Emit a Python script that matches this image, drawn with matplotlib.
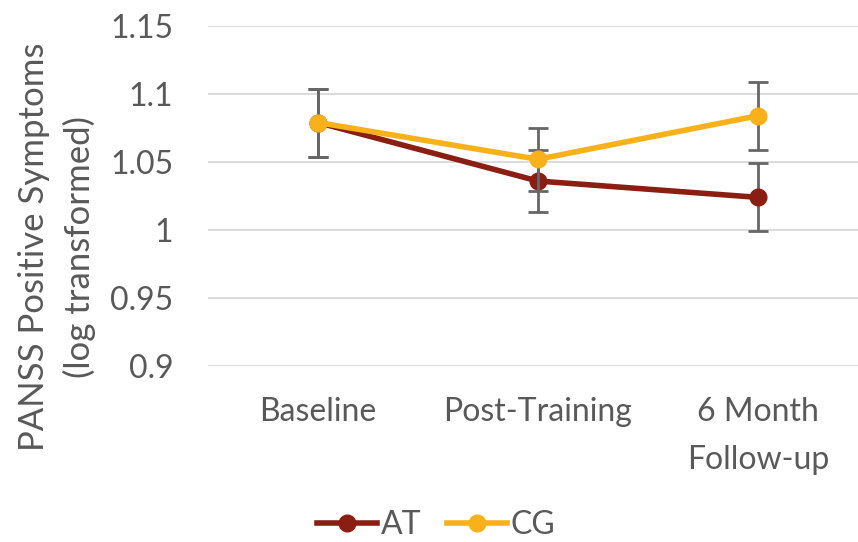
import numpy as np
import matplotlib.pyplot as plt
from matplotlib.lines import Line2D

categories = ["Baseline", "Post-Training", "6 Month\nFollow-up"]
at_values = [1.079, 1.036, 1.024]
at_errors = [0.025, 0.023, 0.025]
cg_values = [1.079, 1.052, 1.084]
cg_errors = [0.025, 0.023, 0.025]
yticks = [0.9, 0.95, 1.0, 1.05, 1.1, 1.15]
ytick_labels = ["0.9", "0.95", "1", "1.05", "1.1", "1.15"]

plt.rcParams['font.family'] = ['Lato', 'DejaVu Sans']
text_color = "#595959"
at_color = "#8B1E12"
cg_color = "#F9B11B"

fig = plt.figure(figsize=(8.58, 5.42), dpi=100)
ax = fig.add_axes([208 / 858, 1 - 366 / 542, 1 - 208 / 858, 340 / 542])

x = np.arange(len(categories))
ax.errorbar(x, at_values, yerr=at_errors, color=at_color, lw=4, marker="o", ms=12,
            ecolor="#666666", elinewidth=2, capsize=7, capthick=2, zorder=3)
ax.errorbar(x, cg_values, yerr=cg_errors, color=cg_color, lw=4, marker="o", ms=12,
            ecolor="#666666", elinewidth=2, capsize=7, capthick=2, zorder=4)

ax.set_ylim(0.9, 1.15)
ax.set_xlim(-0.5, 2.455)
ax.set_yticks(yticks)
ax.set_yticklabels(ytick_labels)
ax.set_xticks(x)
ax.set_xticklabels(categories, linespacing=1.75)
ax.tick_params(length=0, labelsize=23, colors=text_color)
ax.tick_params(axis='y', pad=25)
ax.tick_params(axis='x', pad=22)
ax.grid(axis='y', color="#d9d9d9", lw=1.3)
ax.set_axisbelow(True)
for s in ax.spines.values():
    s.set_visible(False)

fig.text(57 / 858, 1 - 247 / 542, "PANSS Positive Symptoms\n(log transformed)", rotation=90,
         ha="center", va="center", fontsize=25, color=text_color, linespacing=1.45)

handles = [Line2D([], [], color=at_color, lw=4, marker="o", ms=12),
           Line2D([], [], color=cg_color, lw=4, marker="o", ms=12)]
leg = fig.legend(handles, ["AT", "CG"], loc="center", bbox_to_anchor=(436 / 858, 1 - 525 / 542),
                 ncol=2, frameon=False, fontsize=23, handlelength=1.9, columnspacing=0.8,
                 handletextpad=0.1, borderpad=0)
for t in leg.get_texts():
    t.set_color(text_color)

fig.savefig("out.png", dpi=100)
